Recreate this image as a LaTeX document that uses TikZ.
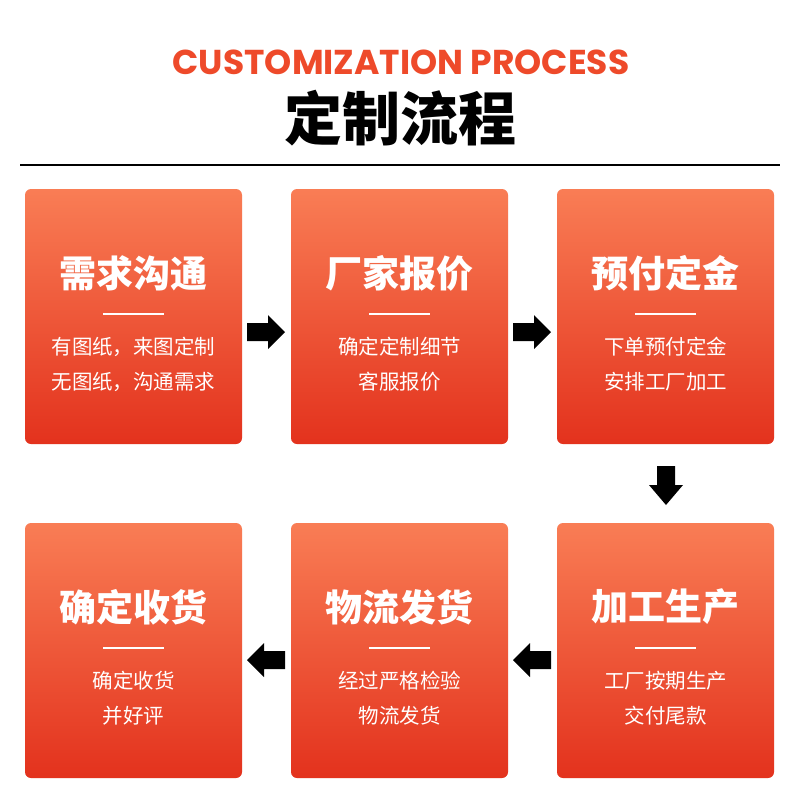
\documentclass[tikz,border=0pt]{standalone}
\usepackage{fontspec}
\setmainfont{Noto Sans}
\newfontfamily\cjk{Noto Sans CJK SC}
\newfontfamily\en{Poppins}
\begin{document}
\begin{tikzpicture}[x=1pt,y=-1pt,
  card/.style={rounded corners=6pt,top color=cTop,bottom color=cBot,draw=none},
  ttl/.style={text=white,font=\cjk\bfseries\fontsize{37}{40}\selectfont},
  bdy/.style={text=white,font=\cjk\fontsize{20.5}{35}\selectfont,align=center},
  arr/.style={fill=black,draw=none}]
\definecolor{cTop}{HTML}{F97D55}
\definecolor{cBot}{HTML}{E3321D}
\definecolor{tOr}{HTML}{EE4A2A}
\useasboundingbox (0,0) rectangle (800,804);
\fill[white] (0,0) rectangle (800,804);
\node (en) at (401,62) {\textcolor{tOr}{\en\bfseries\fontsize{34.5}{38}\selectfont CUSTOMIZATION PROCESS}};
\node (zh) at (400,118) {\cjk\bfseries\fontsize{58}{60}\selectfont 定制流程};
\draw[line width=1.2pt] (20,165) -- (780,165);
\foreach \n/\x/\y/\t/\a/\b in {
  c1/25/189/需求沟通/有图纸，来图定制/无图纸，沟通需求,
  c2/291/189/厂家报价/确定定制细节/客服报价,
  c3/557/189/预付定金/下单预付定金/安排工厂加工,
  c4/557/523/加工生产/工厂按期生产/交付尾款,
  c5/291/523/物流发货/经过严格检验/物流发货,
  c6/25/523/确定收货/确定收货/并好评}{
  \path[card] (\x,\y) rectangle ++(217,255);
  \node[ttl] (\n t) at (\x+108.5,\y+84) {\t};
  \draw[white,line width=1.5pt] (\x+78,\y+125) -- (\x+139,\y+125);
  \node[bdy] (\n b) at (\x+108.5,\y+175) {\a\\\b};
}
\foreach \x in {247,513}{
  \fill[arr] (\x,323) -- (\x+21,323) -- (\x+21,315) -- (\x+38,332) -- (\x+21,349) -- (\x+21,341) -- (\x,341) -- cycle;}
\fill[arr] (657,466) -- (675,466) -- (675,485) -- (683,485) -- (666,505) -- (649,485) -- (657,485) -- cycle;
\foreach \x in {285,551}{
  \fill[arr] (\x,651) -- (\x-21,651) -- (\x-21,643) -- (\x-38,660) -- (\x-21,677) -- (\x-21,669) -- (\x,669) -- cycle;}
\end{tikzpicture}
\end{document}
